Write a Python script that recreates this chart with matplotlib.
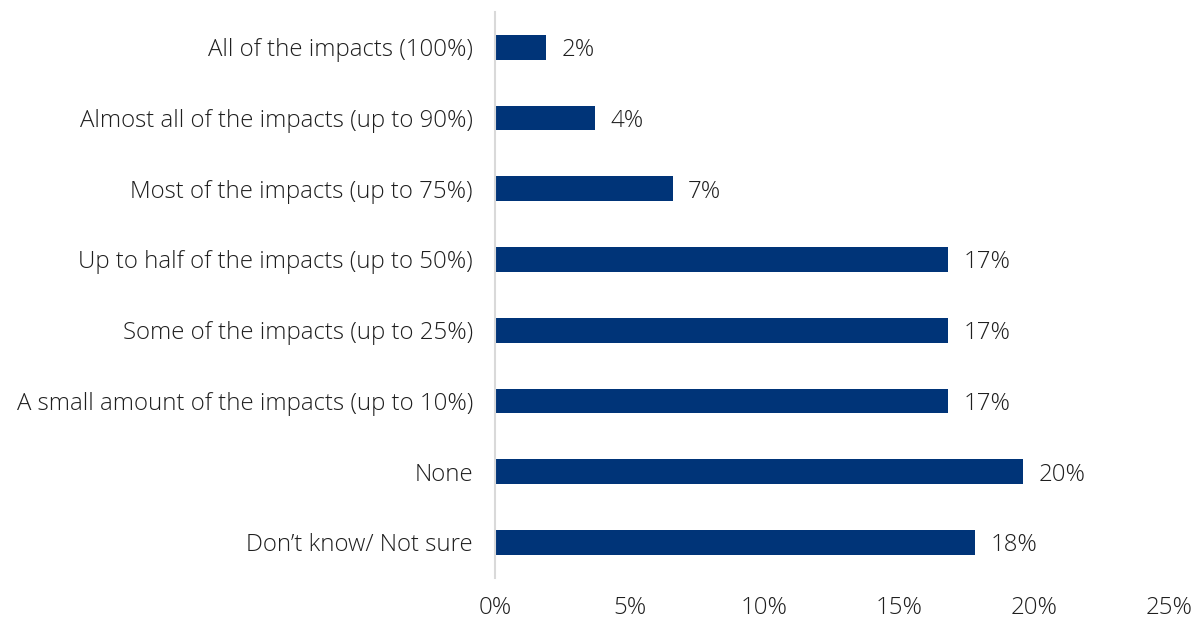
import matplotlib.pyplot as plt

categories = [
    "All of the impacts (100%)",
    "Almost all of the impacts (up to 90%)",
    "Most of the impacts (up to 75%)",
    "Up to half of the impacts (up to 50%)",
    "Some of the impacts (up to 25%)",
    "A small amount of the impacts (up to 10%)",
    "None",
    "Don\u2019t know/ Not sure",
]
shares = [1.9, 3.7, 6.6, 16.8, 16.8, 16.8, 19.6, 17.8]
xticks = [0, 5, 10, 15, 20, 25]

BAR = "#003478"
TEXT = "#1f1f1f"
FS = 17.3

plt.rcParams["font.family"] = ["Open Sans", "DejaVu Sans"]
plt.rcParams["font.weight"] = "light"

fig = plt.figure(figsize=(12.03, 6.2), dpi=100)
ax = fig.add_axes([0.4115, 0.068, 0.5602, 0.913])

pos = list(range(len(categories)))
ax.barh(pos, shares, height=0.35, color=BAR)
for y, v in zip(pos, shares):
    ax.annotate(f"{v:.0f}%", (v, y), xytext=(11, 0), textcoords="offset points",
                va="center_baseline", ha="left", fontsize=FS, color=TEXT)

ax.set_ylim(len(categories) - 0.5, -0.5)
ax.set_xlim(0, 25)
ax.set_yticks(pos)
ax.set_yticklabels(categories, fontsize=FS, color=TEXT, va="center_baseline")
ax.set_xticks(xticks)
ax.set_xticklabels([f"{t}%" for t in xticks], fontsize=FS, color=TEXT)
ax.tick_params(axis="both", length=0)
ax.tick_params(axis="y", pad=16)
ax.tick_params(axis="x", pad=13)

for side in ["top", "right", "bottom"]:
    ax.spines[side].set_visible(False)
ax.spines["left"].set_color("#d9d9d9")
ax.spines["left"].set_linewidth(1.5)

fig.savefig("out.png", dpi=100)
